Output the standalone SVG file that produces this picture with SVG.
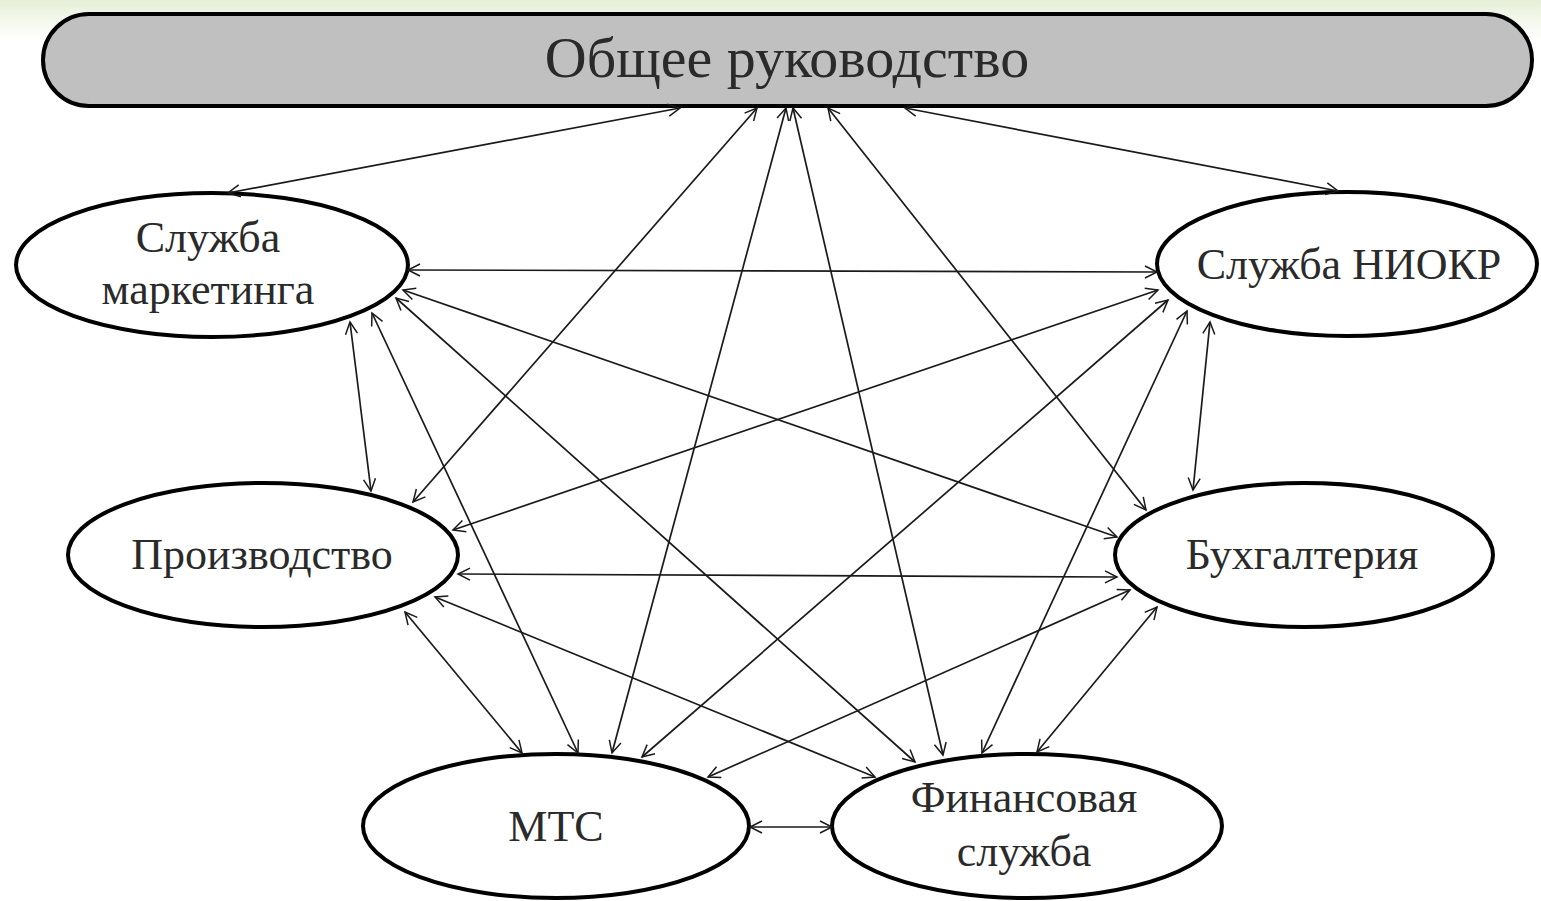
<svg xmlns="http://www.w3.org/2000/svg" width="1541" height="901" viewBox="0 0 1541 901">
  <defs>
    <linearGradient id="bg" x1="0" y1="0" x2="0" y2="1">
      <stop offset="0" stop-color="#e6f0d8"/>
      <stop offset="1" stop-color="#ffffff"/>
    </linearGradient>
    <marker id="ah" markerUnits="userSpaceOnUse" markerWidth="16" markerHeight="14" viewBox="0 0 16 14" refX="14" refY="7" orient="auto-start-reverse">
      <path d="M2,1 L14,7 L2,13" fill="none" stroke="#1a1a1a" stroke-width="1.5"/>
    </marker>
    <style>
      .node { fill: #ffffff; stroke: #000000; stroke-width: 4; }
      .top { fill: #c0c0c0; stroke: #000000; stroke-width: 4; }
      .lbl { font-family: "Liberation Serif", "Times New Roman", serif; font-size: 44px; fill: #2a2a2a; text-anchor: middle; }
      .ttl { font-family: "Liberation Serif", "Times New Roman", serif; font-size: 58px; fill: #2a2a2a; text-anchor: middle; }
      .c line { stroke: #1a1a1a; stroke-width: 1.7; marker-start: url(#ah); marker-end: url(#ah); }
    </style>
  </defs>
  <rect x="0" y="0" width="1541" height="901" fill="#ffffff"/>
  <rect x="0" y="0" width="1541" height="40" fill="url(#bg)"/>

  <g id="node-top">
    <rect class="top" x="43" y="14" width="1489" height="92" rx="46" ry="46"/>
    <text class="ttl" x="787" y="77">Общее руководство</text>
  </g>
  <g id="node-marketing">
    <ellipse class="node" cx="212" cy="265" rx="196" ry="72"/>
    <text class="lbl" x="208" y="252">Служба</text>
    <text class="lbl" x="208" y="304">маркетинга</text>
  </g>
  <g id="node-niokr">
    <ellipse class="node" cx="1347" cy="264" rx="190" ry="72"/>
    <text class="lbl" x="1349" y="279">Служба НИОКР</text>
  </g>
  <g id="node-production">
    <ellipse class="node" cx="263" cy="555" rx="195" ry="72"/>
    <text class="lbl" x="262" y="569">Производство</text>
  </g>
  <g id="node-accounting">
    <ellipse class="node" cx="1304" cy="555" rx="189" ry="72"/>
    <text class="lbl" x="1302" y="569">Бухгалтерия</text>
  </g>
  <g id="node-mts">
    <ellipse class="node" cx="556" cy="826" rx="193" ry="72"/>
    <text class="lbl" x="556" y="841">МТС</text>
  </g>
  <g id="node-finance">
    <ellipse class="node" cx="1027" cy="826" rx="195" ry="72"/>
    <text class="lbl" x="1024" y="812">Финансовая</text>
    <text class="lbl" x="1024" y="866">служба</text>
  </g>

  <g id="connectors" class="c">
    <line x1="680" y1="108" x2="228" y2="193"/>
    <line x1="905" y1="108" x2="1338" y2="191"/>
    <line x1="757" y1="108" x2="413" y2="502"/>
    <line x1="786" y1="108" x2="612" y2="753"/>
    <line x1="793" y1="108" x2="943" y2="755"/>
    <line x1="828" y1="108" x2="1146" y2="510"/>
    <line x1="408" y1="270" x2="1157" y2="272"/>
    <line x1="403" y1="290" x2="1117" y2="537"/>
    <line x1="396" y1="298" x2="915" y2="762"/>
    <line x1="372" y1="313" x2="578" y2="753"/>
    <line x1="350" y1="322" x2="371" y2="491"/>
    <line x1="1158" y1="290" x2="453" y2="530"/>
    <line x1="1168" y1="300" x2="642" y2="757"/>
    <line x1="1187" y1="311" x2="982" y2="753"/>
    <line x1="1210" y1="322" x2="1193" y2="490"/>
    <line x1="458" y1="574" x2="1117" y2="577"/>
    <line x1="435" y1="597" x2="875" y2="777"/>
    <line x1="405" y1="612" x2="522" y2="753"/>
    <line x1="708" y1="777" x2="1130" y2="590"/>
    <line x1="1037" y1="752" x2="1157" y2="607"/>
    <line x1="750" y1="827" x2="832" y2="827"/>
  </g>
</svg>
